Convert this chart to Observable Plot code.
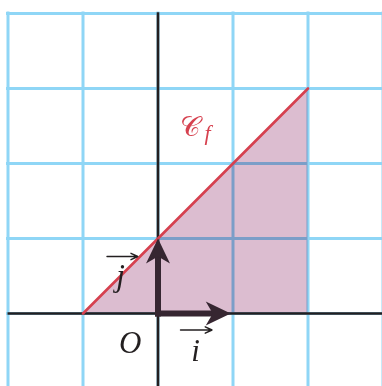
<!DOCTYPE html>
<html>
<head>
<meta charset="utf-8">
<script src="https://cdn.jsdelivr.net/npm/d3@7"></script>
<script src="https://cdn.jsdelivr.net/npm/@observablehq/plot@0.6"></script>
<style>
  html, body { margin: 0; padding: 0; background: #fff; }
  svg { display: block; }
</style>
</head>
<body>
<div id="chart"></div>
<script>
// Grid ticks (units)
const gridX = [-2, -1, 0, 1, 2, 3];
const gridY = [-1, 0, 1, 2, 3, 4];
// Curve C_f : segment from (-1,0) to (2,3)
const curveX = [-1, 2];
const curveY = [0, 3];
// Unit vectors i and j
const vecNames = ["i", "j"];
const vecX = [1, 0];
const vecY = [0, 1];
const vecRotate = [90, 0];
// Text labels
const labelText = ["O", "i", "j"];
const labelX = [-0.37, 0.5, -0.5];
const labelY = [-0.39, -0.5, 0.5];
const curveLabel = "𝒞";
const curveSub = "f";
// small arrows above vector letters
const smallArrowX1 = [0.3, -0.68];
const smallArrowX2 = [0.72, -0.27];
const smallArrowY = [-0.22, 0.76];

const curve = curveX.map((x, i) => ({x, y: curveY[i]}));
const vectors = vecNames.map((n, i) => ({name: n, x: vecX[i], y: vecY[i], r: vecRotate[i]}));
const labels = labelText.map((t, i) => ({t, x: labelX[i], y: labelY[i]}));
const smallArrows = smallArrowX1.map((x1, i) => ({x1, x2: smallArrowX2[i], y: smallArrowY[i]}));

const stealth = {
  draw(context, size) {
    const r = Math.sqrt(size / Math.PI) / 10;
    context.moveTo(0, 0);
    context.lineTo(12 * r, 25 * r);
    context.lineTo(0, 18 * r);
    context.lineTo(-12 * r, 25 * r);
    context.closePath();
  }
};

const vecColor = "#362631";

const plot = Plot.plot({
  width: 382,
  height: 386,
  margin: 0,
  x: {domain: [-2, 3], range: [7.5, 382.5], axis: null},
  y: {domain: [-1, 4], range: [388, 13], axis: null},
  style: {background: "#fff"},
  marks: [
    Plot.ruleX(gridX, {y1: -1.1, y2: 4, stroke: "#8fd6f6", strokeWidth: 3, strokeLinecap: "square"}),
    Plot.ruleY(gridY, {x1: -2, x2: 3.1, stroke: "#8fd6f6", strokeWidth: 3, strokeLinecap: "square"}),
    Plot.areaY(curve, {x: "x", y: "y", fill: "#dcbdd0", mixBlendMode: "multiply"}),
    Plot.ruleY([0], {x1: -2, x2: 3.1, stroke: "#231f20", strokeWidth: 2.6}),
    Plot.ruleX([0], {y1: -1.1, y2: 4.01, stroke: "#231f20", strokeWidth: 2.6}),
    Plot.line(curve, {x: "x", y: "y", stroke: "#d6414f", strokeWidth: 2.6}),
    Plot.link(vectors, {x1: 0, y1: 0, x2: d => d.x * 0.8, y2: d => d.y * 0.8, stroke: vecColor, strokeWidth: 6, strokeLinecap: "square"}),
    Plot.dot(vectors, {x: d => d.x * 0.97, y: d => d.y, rotate: "r", symbol: stealth, r: 10, fill: vecColor, stroke: "none"}),
    Plot.text(labels, {x: "x", y: "y", text: "t", fontFamily: "Liberation Serif, DejaVu Serif, serif", fontStyle: "italic", fontSize: 31, fill: "#231f20"}),
    Plot.text([{x: 0.42, y: 2.49}], {x: "x", y: "y", text: () => curveLabel, fontFamily: "DejaVu Serif, serif", fontSize: 28, fill: "#d6414f"}),
    Plot.text([{x: 0.66, y: 2.41}], {x: "x", y: "y", text: () => curveSub, fontFamily: "Liberation Serif, DejaVu Serif, serif", fontStyle: "italic", fontSize: 22, fill: "#d6414f"}),
    Plot.arrow(smallArrows, {x1: "x1", x2: "x2", y1: "y", y2: "y", stroke: "#231f20", strokeWidth: 1.4, headLength: 8, headAngle: 50})
  ]
});
document.getElementById("chart").append(plot);
</script>
</body>
</html>
